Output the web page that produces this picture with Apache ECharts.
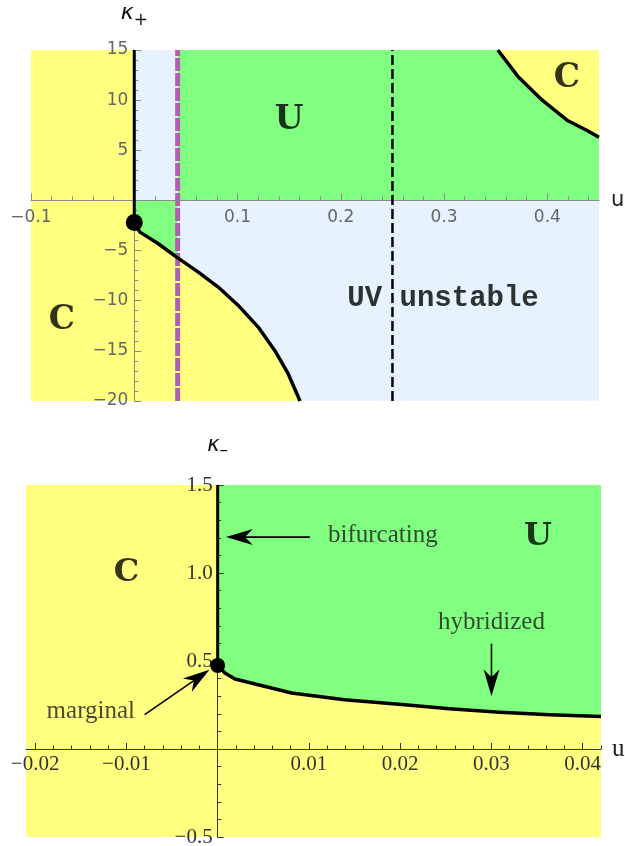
<!DOCTYPE html>
<html><head><meta charset="utf-8">
<script src="https://cdn.jsdelivr.net/npm/echarts@6/dist/echarts.min.js"></script>
<style>html,body{margin:0;padding:0;background:#fff}#c{width:625px;height:846px}</style>
</head><body><div id="c"></div><script>
// ---------- TOP PANEL DATA (u, kappa+) ----------
const topURange = [-0.1, 0.45];
const topKRange = [-20, 15];
const topXLabels = [-0.1, 0.1, 0.2, 0.3, 0.4];
const topXMajor = [-0.1, 0, 0.1, 0.2, 0.3, 0.4];
const uMarginal = 0.042;   // purple dashed line
const uUV = 0.25;          // black dashed line
const topDot = [0, -2.2];
const lowerCurveU = [0, 0.0055, 0.0233, 0.041, 0.062, 0.0813, 0.1007, 0.120, 0.136, 0.149, 0.1605];
const lowerCurveK = [-2.2, -3.16, -4.32, -5.65, -7.15, -8.64, -10.47, -12.63, -14.96, -17.28, -20.0];
const upperCurveU = [0.352, 0.372, 0.395, 0.419, 0.438, 0.45];
const upperCurveK = [15, 12.3, 10.0, 8.0, 7.0, 6.3];
const topTexts = [
  {name: 'U', pos: [0.150, 8.0]},
  {name: 'C', pos: [-0.070, -12.0]},
  {name: 'C', pos: [0.419, 12.2]}
];
const topMonoText = {name: 'UV unstable', pos: [0.299, -9.8]};

// ---------- BOTTOM PANEL DATA (u, kappa-) ----------
const botURange = [-0.021, 0.042];
const botKRange = [-0.5, 1.5];
const botXLabels = [-0.02, -0.01, 0.01, 0.02, 0.03, 0.04];
const botXMajor = [-0.02, -0.01, 0, 0.01, 0.02, 0.03, 0.04];
const botDot = [0, 0.475];
const hybridU = [0, 0.0008, 0.0019, 0.0081, 0.0139, 0.0205, 0.0254, 0.0309, 0.0364, 0.042];
const hybridK = [0.475, 0.432, 0.398, 0.318, 0.280, 0.252, 0.229, 0.209, 0.194, 0.185];
const botBigTexts = [
  {name: 'U', pos: [0.0351, 1.207]},
  {name: 'C', pos: [-0.0100, 1.0]}
];
const botNotes = [
  {name: 'bifurcating', pos: [0.0181, 1.212]},
  {name: 'hybridized', pos: [0.0300, 0.718]},
  {name: 'marginal', pos: [-0.0139, 0.215]}
];
const botArrows = [
  [[0.0101, 1.204], [0.0009, 1.204]],
  [[0.0300, 0.598], [0.0300, 0.300]],
  [[-0.0080, 0.195], [-0.0009, 0.450]]
];

// ---------- layout ----------
const G1 = {left: 31, top: 50, width: 568, height: 351};
const G2 = {left: 26, top: 485, width: 575, height: 352};

// ---------- helpers ----------
const YELLOW = '#FFFF80', GREEN = '#80FF80', BLUE = '#E6F2FD';
const zip = (a, b) => a.map((v, i) => [v, b[i]]);
const fmt = d => v => Math.abs(v) < 1e-12 ? '' : (v < 0 ? '\u2212' : '') + Math.abs(v).toFixed(d);
// offset that moves an axis from the grid edge onto the zero of the other axis
const zeroOffset = (range, size) => -size * (0 - range[0]) / (range[1] - range[0]);
function minorList(lo, hi, step, majors) {
  const out = [];
  const n = Math.round((hi - lo) / step);
  for (let i = 0; i <= n; i++) {
    const v = +(lo + i * step).toFixed(6);
    if (!majors.some(m => Math.abs(m - v) < step / 10)) out.push(v);
  }
  return out;
}
function poly(points, color, idx) {
  return {
    type: 'custom', xAxisIndex: idx[0], yAxisIndex: idx[1], silent: true, z: 1,
    data: [points[0]],
    renderItem: (p, api) => ({type: 'polygon', shape: {points: points.map(q => api.coord(q))}, style: {fill: color}})
  };
}
function line(points, style, idx, z) {
  return {type: 'line', xAxisIndex: idx[0], yAxisIndex: idx[1], data: points, showSymbol: false, silent: true,
    z: z || 4, lineStyle: Object.assign({join: 'round', cap: 'butt'}, style)};
}
function texts(items, idx, labelStyle) {
  return {type: 'scatter', xAxisIndex: idx[0], yAxisIndex: idx[1], symbolSize: 1, silent: true, z: 6,
    itemStyle: {color: 'rgba(0,0,0,0)'},
    label: Object.assign({show: true, position: 'inside', formatter: '{b}'}, labelStyle),
    data: items.map(t => ({name: t.name, value: t.pos}))};
}
function dot(p, size, idx) {
  return {type: 'scatter', xAxisIndex: idx[0], yAxisIndex: idx[1], data: [p], symbolSize: size,
    itemStyle: {color: '#000', opacity: 1}, z: 5, silent: true};
}
function arrows(list, idx) {
  return {
    type: 'custom', xAxisIndex: idx[0], yAxisIndex: idx[1], silent: true, z: 5,
    data: list.map((a, i) => [a[1][0], a[1][1], i]),
    renderItem: (p, api) => {
      const a = list[p.dataIndex];
      const t = api.coord(a[0]), h = api.coord(a[1]);
      const dx = h[0] - t[0], dy = h[1] - t[1], L = Math.hypot(dx, dy);
      const ux = dx / L, uy = dy / L, nx = -uy, ny = ux;
      const len = 27, half = 8, notch = 19;
      const back = [h[0] - ux * len, h[1] - uy * len];
      const mid = [h[0] - ux * notch, h[1] - uy * notch];
      return {type: 'group', children: [
        {type: 'line', shape: {x1: t[0], y1: t[1], x2: mid[0], y2: mid[1]}, style: {stroke: '#000', lineWidth: 1.6}},
        {type: 'polygon', shape: {points: [h, [back[0] + nx * half, back[1] + ny * half], mid, [back[0] - nx * half, back[1] - ny * half]]},
          style: {fill: '#000'}}
      ]};
    }
  };
}

// ---------- regions ----------
const T = [0, 0], B = [1, 1];
const topLowerCurve = zip(lowerCurveU, lowerCurveK);
const topUpperCurve = zip(upperCurveU, upperCurveK);
const botCurve = zip(hybridU, hybridK);
const [tx0, tx1] = topURange, [ty0, ty1] = topKRange;
const [bx0, bx1] = botURange, [by0, by1] = botKRange;

const series = [
  // top panel fills
  poly([[0, ty0], [0, ty1], [tx1, ty1], [tx1, ty0]], BLUE, T),
  poly([[tx0, ty0], [tx0, ty1], [0, ty1], [0, ty0]], YELLOW, T),
  poly([[uMarginal, 0], [uMarginal, ty1], [tx1, ty1], [tx1, 0]], GREEN, T),
  poly([[0, 0], [0, ty0], [uMarginal, ty0], [uMarginal, 0]], GREEN, T),
  poly(topLowerCurve.concat([[0, ty0]]), YELLOW, T),
  poly(topUpperCurve.concat([[tx1, ty1]]), YELLOW, T),
  // top panel lines
  line([[uMarginal, ty0], [uMarginal, ty1]], {color: '#B060B0', width: 5, type: [13, 2]}, T, 2),
  line([[uUV, ty0], [uUV, ty1]], {color: '#000', width: 2.5, type: [10, 4]}, T),
  line([[0, ty1], topDot], {color: '#000', width: 3}, T),
  line(topLowerCurve, {color: '#000', width: 3.5}, T),
  line(topUpperCurve, {color: '#000', width: 3.5}, T),
  dot(topDot, 17, T),
  texts(topTexts, T, {fontFamily: 'DejaVu Serif', fontWeight: 'bold', fontSize: 33, color: '#000'}),
  texts([topMonoText], T, {fontFamily: 'Liberation Mono', fontWeight: 'bold', fontSize: 29, color: '#000'}),

  // bottom panel fills
  poly([[bx0, by0], [bx0, by1], [bx1, by1], [bx1, by0]], YELLOW, B),
  poly([[0, by1]].concat(botCurve).concat([[bx1, by1]]), GREEN, B),
  line([[0, by1], botDot], {color: '#000', width: 3}, B),
  line(botCurve, {color: '#000', width: 3.5}, B),
  dot(botDot, 15, B),
  arrows(botArrows, B),
  texts(botBigTexts, B, {fontFamily: 'DejaVu Serif', fontWeight: 'bold', fontSize: 32, color: '#000'}),
  texts(botNotes, B, {fontFamily: 'Liberation Serif', fontSize: 25, color: '#1a1a1a'})
];

const topAxisColor = '#8a8a8a', botAxisColor = '#333';
const topXOff = zeroOffset(topKRange, G1.height), topYOff = zeroOffset(topURange, G1.width);
const botXOff = zeroOffset(botKRange, G2.height), botYOff = zeroOffset(botURange, G2.width);
const option = {
  animation: false,
  grid: [
    Object.assign({outerBoundsMode: 'none', containLabel: false}, G1),
    Object.assign({outerBoundsMode: 'none', containLabel: false}, G2)
  ],
  xAxis: [
    {type: 'value', gridIndex: 0, min: tx0, max: tx1, position: 'bottom', offset: topXOff, z: 3,
      splitLine: {show: false},
      axisLine: {onZero: false, lineStyle: {color: topAxisColor, width: 1}},
      axisTick: {inside: true, length: 7, customValues: topXMajor, lineStyle: {color: topAxisColor}},
      axisLabel: {customValues: topXLabels, formatter: fmt(1), color: '#666', fontFamily: 'DejaVu Sans', fontSize: 17, margin: 9},
      name: 'u', nameLocation: 'end', nameGap: 12,
      nameTextStyle: {fontFamily: 'DejaVu Sans', fontSize: 21, color: '#222', verticalAlign: 'middle'}},
    {type: 'value', gridIndex: 1, min: bx0, max: bx1, position: 'bottom', offset: botXOff, z: 3,
      splitLine: {show: false},
      axisLine: {onZero: false, lineStyle: {color: botAxisColor, width: 1}},
      axisTick: {inside: true, length: 6, customValues: botXMajor, lineStyle: {color: botAxisColor}},
      axisLabel: {customValues: botXLabels, formatter: fmt(2), color: '#333', fontFamily: 'Liberation Serif', fontSize: 21, margin: 5},
      name: 'u', nameLocation: 'end', nameGap: 11,
      nameTextStyle: {fontFamily: 'Liberation Serif', fontSize: 25, color: '#222', verticalAlign: 'middle'}},
    {type: 'value', gridIndex: 1, min: bx0, max: bx1, position: 'bottom', offset: botXOff, z: 3,
      splitLine: {show: false}, axisLine: {show: false, onZero: false},
      axisTick: {inside: true, length: 3.5, customValues: minorList(-0.02, 0.042, 0.002, botXMajor), lineStyle: {color: botAxisColor}},
      axisLabel: {show: false}},
    {type: 'value', gridIndex: 0, min: tx0, max: tx1, position: 'bottom', offset: topXOff, z: 3,
      splitLine: {show: false}, axisLine: {show: false, onZero: false},
      axisTick: {inside: true, length: 4, customValues: minorList(-0.1, 0.45, 0.02, topXMajor), lineStyle: {color: topAxisColor}},
      axisLabel: {show: false}}
  ],
  yAxis: [
    {type: 'value', gridIndex: 0, min: ty0, max: ty1, interval: 5, position: 'left', offset: topYOff, z: 3,
      splitLine: {show: false},
      axisLine: {onZero: false, lineStyle: {color: topAxisColor, width: 1}},
      axisTick: {inside: true, length: 7, lineStyle: {color: topAxisColor}},
      minorTick: {show: true, splitNumber: 5, length: 4, lineStyle: {color: topAxisColor}},
      axisLabel: {formatter: fmt(0), color: '#666', fontFamily: 'DejaVu Sans', fontSize: 17, margin: 6},
      name: '{k|\u03BA}{s|+}', nameLocation: 'end', nameGap: 21,
      nameTextStyle: {rich: {
        k: {fontFamily: 'DejaVu Sans', fontStyle: 'italic', fontSize: 22, color: '#111'},
        s: {fontFamily: 'DejaVu Sans', fontSize: 17, color: '#111', padding: [14, 0, 0, 0]}}}},
    {type: 'value', gridIndex: 1, min: by0, max: by1, interval: 0.5, position: 'left', offset: botYOff, z: 3,
      splitLine: {show: false},
      axisLine: {onZero: false, lineStyle: {color: botAxisColor, width: 1}},
      axisTick: {inside: true, length: 6, lineStyle: {color: botAxisColor}},
      minorTick: {show: true, splitNumber: 5, length: 3.5, lineStyle: {color: botAxisColor}},
      axisLabel: {formatter: fmt(1), color: '#333', fontFamily: 'Liberation Serif', fontSize: 21, margin: 5},
      name: '{k|\u03BA}{s|\u2013}', nameLocation: 'end', nameGap: 26,
      nameTextStyle: {rich: {
        k: {fontFamily: 'DejaVu Sans', fontStyle: 'italic', fontSize: 21, color: '#111'},
        s: {fontFamily: 'DejaVu Sans', fontSize: 17, color: '#111', padding: [9, 0, 0, 0]}}}}
  ],
  series: series
};
const chart = echarts.init(document.getElementById('c'), null, {renderer: 'canvas'});
chart.setOption(option);
</script></body></html>
